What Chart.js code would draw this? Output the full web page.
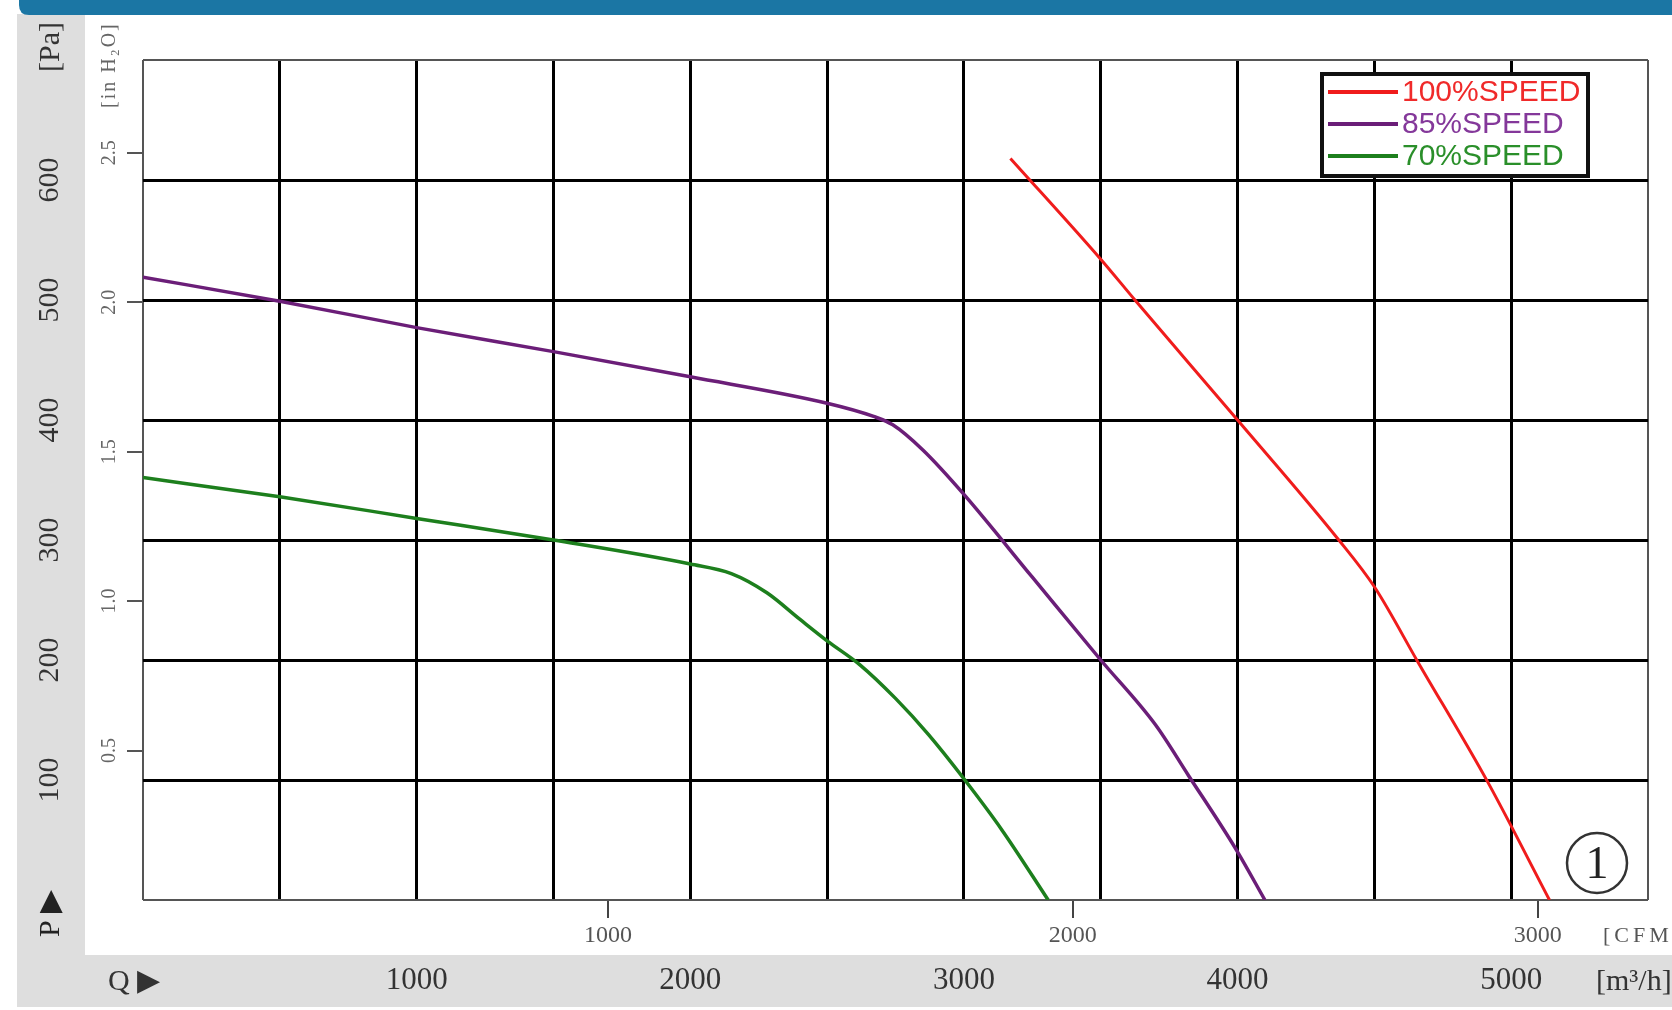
<!DOCTYPE html>
<html>
<head>
<meta charset="utf-8">
<title>P-Q curve</title>
<script src="https://cdn.jsdelivr.net/npm/chart.js@4.4.1/dist/chart.umd.min.js"></script>
<style>
  html, body { margin: 0; padding: 0; background: #fff; overflow: hidden; }
  #wrap { position: relative; width: 1672px; height: 1010px; }
</style>
</head>
<body>
<div id="wrap"><canvas id="pq"></canvas></div>
<script>
// Airflow in m3/h, static pressure in Pa.
var seriesLabels = ['100%SPEED', '85%SPEED', '70%SPEED'];
var seriesColors = ['#f01c1c', '#6b1e78', '#1d7f1d'];
var legendTextColors = ['#f02a2a', '#84389a', '#2a8f2a'];

var q100 = [3170, 3500, 3625, 4000, 4370, 4500, 4660, 4915, 5140];
var p100 = [618, 534, 500, 400, 300, 261, 198, 98, 0];

var q85 = [0, 500, 1000, 1500, 2000, 2500, 2670, 2740, 2850, 3000, 3250, 3500, 3700, 3820, 3995, 4100];
var p85 = [519, 499, 477, 457, 436, 414, 403, 396, 375, 338, 269, 200, 146, 104, 42, 0];

var q70 = [0, 500, 1000, 1500, 2000, 2150, 2280, 2400, 2500, 2620, 2750, 2870, 3000, 3140, 3308];
var p70 = [352, 336, 318, 300, 280, 272, 256, 234, 216, 196, 168, 138, 101, 58, 0];

// tick labels
var m3hTicks = [1000, 2000, 3000, 4000, 5000];
var cfmTicks = [1000, 2000, 3000];
var paTicks = [100, 200, 300, 400, 500, 600];
var inchTicks = [0.5, 1.0, 1.5, 2.0, 2.5];

var Q_MAX = 5500;
var P_MAX = 700;
var M3H_PER_CFM = 1.69901;
var PA_PER_INCH = 249.089;

var SERIF = "'Liberation Serif', 'Times New Roman', serif";
var SANS = "'Liberation Sans', Arial, sans-serif";

function points(qs, ps) {
  return qs.map(function(q, i) { return { x: q, y: ps[i] }; });
}

function edgeColor(max) {
  return function(c) {
    var v = c.tick ? c.tick.value : null;
    return (v === 0 || v === max) ? '#555' : '#000';
  };
}
function edgeWidth(max) {
  return function(c) {
    var v = c.tick ? c.tick.value : null;
    return (v === 0 || v === max) ? 2 : 3;
  };
}

/** Grey side panels, legend box, unit captions and the header bar. */
var sheetDecor = {
  id: 'sheetDecor',
  beforeDraw: function(chart) {
    var ctx = chart.ctx, w = chart.width, h = chart.height;
    ctx.save();
    ctx.fillStyle = '#ffffff';
    ctx.fillRect(0, 0, w, h);
    ctx.fillStyle = '#dedede';
    ctx.fillRect(17, 14, 68, 993);
    ctx.fillRect(17, 955, w - 17, 52);
    ctx.restore();
  },
  afterDraw: function(chart) {
    var ctx = chart.ctx, w = chart.width;
    ctx.save();

    // legend
    ctx.fillStyle = '#fff';
    ctx.fillRect(1322, 74, 266, 102);
    chart.data.datasets.forEach(function(ds, i) {
      var cy = 92 + i * 32;
      ctx.strokeStyle = ds.borderColor;
      ctx.lineWidth = 4;
      ctx.beginPath();
      ctx.moveTo(1328, cy);
      ctx.lineTo(1398, cy);
      ctx.stroke();
      ctx.fillStyle = legendTextColors[i];
      ctx.font = '30px ' + SANS;
      ctx.textAlign = 'left';
      ctx.textBaseline = 'middle';
      ctx.fillText(ds.label, 1402, cy + 1);
    });
    ctx.strokeStyle = '#111';
    ctx.lineWidth = 4;
    ctx.strokeRect(1322, 74, 266, 102);

    // circled curve number
    ctx.strokeStyle = '#333';
    ctx.lineWidth = 2.5;
    ctx.beginPath();
    ctx.arc(1597, 863, 30, 0, Math.PI * 2);
    ctx.stroke();
    ctx.fillStyle = '#222';
    ctx.font = '46px ' + SERIF;
    ctx.textAlign = 'center';
    ctx.textBaseline = 'middle';
    ctx.fillText('1', 1597, 866);

    // rotated captions on the left strip
    function upText(txt, x, y, font, color, spacing) {
      ctx.save();
      ctx.translate(x, y);
      ctx.rotate(-Math.PI / 2);
      ctx.font = font;
      ctx.fillStyle = color;
      ctx.textAlign = 'left';
      ctx.textBaseline = 'middle';
      ctx.letterSpacing = spacing || '0px';
      ctx.fillText(txt, 0, 0);
      ctx.restore();
    }
    upText('[Pa]', 51, 72, '30px ' + SERIF, '#333');
    upText('P \u25B6', 51, 937, '30px ' + SERIF, '#222');
    upText('[in H\u2082O]', 110, 108, '20px ' + SERIF, '#666', '2px');

    // captions along the bottom
    ctx.textAlign = 'left';
    ctx.textBaseline = 'middle';
    ctx.font = '30px ' + SERIF;
    ctx.fillStyle = '#333';
    ctx.fillText('Q \u25B6', 108, 982);
    ctx.fillText('[m\u00B3/h]', 1596, 982);
    ctx.font = '22px ' + SERIF;
    ctx.fillStyle = '#555';
    ctx.letterSpacing = '4px';
    ctx.fillText('[CFM]', 1603, 936);
    ctx.letterSpacing = '0px';

    // header bar
    ctx.fillStyle = '#1b76a4';
    ctx.beginPath();
    ctx.moveTo(19, 0);
    ctx.lineTo(w, 0);
    ctx.lineTo(w, 15);
    ctx.lineTo(29, 15);
    ctx.quadraticCurveTo(19, 15, 19, 5);
    ctx.closePath();
    ctx.fill();

    ctx.restore();
  }
};

var qSets = [q100, q85, q70];
var pSets = [p100, p85, p70];
var datasets = seriesLabels.map(function(label, i) {
  return {
    label: label,
    data: points(qSets[i], pSets[i]),
    borderColor: seriesColors[i],
    backgroundColor: seriesColors[i],
    borderWidth: i === 0 ? 3 : 3.5,
    pointRadius: 0,
    fill: false,
    cubicInterpolationMode: 'monotone'
  };
});

new Chart(document.getElementById('pq'), {
  type: 'line',
  data: { datasets: datasets },
  plugins: [sheetDecor],
  options: {
    responsive: true,
    maintainAspectRatio: false,
    animation: false,
    events: [],
    layout: { padding: { left: 17, top: 60, right: 24, bottom: 0 } },
    plugins: {
      legend: { display: false },
      tooltip: { enabled: false }
    },
    scales: {
      x: {
        type: 'linear',
        axis: 'x',
        position: 'bottom',
        weight: 1,
        min: 0,
        max: Q_MAX,
        ticks: {
          stepSize: 500,
          autoSkip: false,
          maxRotation: 0,
          padding: 7,
          color: '#333',
          font: { family: SERIF, size: 31 },
          callback: function(v) { return m3hTicks.indexOf(v) >= 0 ? String(v) : ''; }
        },
        grid: { color: edgeColor(Q_MAX), lineWidth: edgeWidth(Q_MAX), drawTicks: false },
        border: { display: false },
        afterFit: function(s) { s.height = 55; }
      },
      cfm: {
        type: 'linear',
        axis: 'x',
        position: 'bottom',
        weight: 0,
        min: 0,
        max: Q_MAX / M3H_PER_CFM,
        afterBuildTicks: function(s) {
          s.ticks = cfmTicks.map(function(v) { return { value: v }; });
        },
        ticks: {
          autoSkip: false,
          maxRotation: 0,
          padding: 3,
          color: '#555',
          font: { family: SERIF, size: 24 },
          callback: function(v) { return String(v); }
        },
        grid: { drawOnChartArea: false, drawTicks: true, tickLength: 18, color: '#444', lineWidth: 2 },
        border: { display: false },
        afterFit: function(s) { s.height = 55; }
      },
      y: {
        type: 'linear',
        axis: 'y',
        position: 'left',
        weight: 1,
        min: 0,
        max: P_MAX,
        ticks: {
          stepSize: 100,
          autoSkip: false,
          minRotation: 90,
          maxRotation: 90,
          crossAlign: 'center',
          padding: 12,
          color: '#333',
          font: { family: SERIF, size: 30 },
          callback: function(v) { return paTicks.indexOf(v) >= 0 ? String(v) : ''; }
        },
        grid: { color: edgeColor(P_MAX), lineWidth: edgeWidth(P_MAX), drawTicks: false },
        border: { display: false },
        afterFit: function(s) { s.width = 68; }
      },
      inch: {
        type: 'linear',
        axis: 'y',
        position: 'left',
        weight: 0,
        min: 0,
        max: P_MAX / PA_PER_INCH,
        afterBuildTicks: function(s) {
          s.ticks = inchTicks.map(function(v) { return { value: v }; });
        },
        ticks: {
          autoSkip: false,
          minRotation: 90,
          maxRotation: 90,
          crossAlign: 'center',
          padding: 5,
          color: '#666',
          font: { family: SERIF, size: 20 },
          callback: function(v) { return v.toFixed(1); }
        },
        grid: { drawOnChartArea: false, drawTicks: true, tickLength: 16, color: '#555', lineWidth: 2 },
        border: { display: false },
        afterFit: function(s) { s.width = 58; }
      }
    }
  }
});
</script>
</body>
</html>
